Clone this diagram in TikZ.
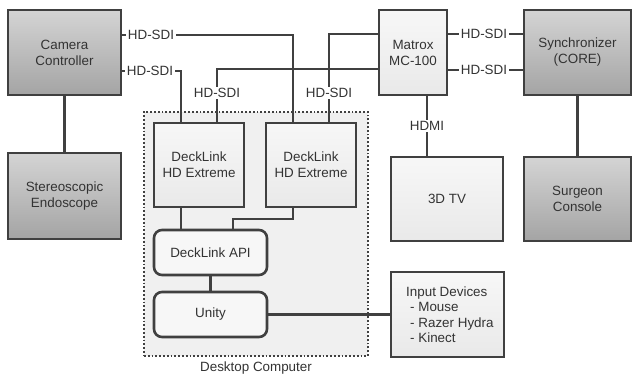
\documentclass[tikz,border=0pt]{standalone}
\usepackage{fontspec}
\setmainfont{Liberation Sans}
\definecolor{txt}{HTML}{333333}
\definecolor{edge}{HTML}{404040}
\definecolor{dtop}{HTML}{D4D4D4}
\definecolor{dbot}{HTML}{A4A4A4}
\definecolor{ltop}{HTML}{F7F7F7}
\definecolor{lbot}{HTML}{E9E9E9}
\definecolor{desk}{HTML}{F0F0F0}
\begin{document}
\begin{tikzpicture}[x=1pt,y=-1pt,
  every node/.style={font=\fontsize{13.4}{16}\selectfont, text=txt},
  box/.style={draw=edge, line width=2.6pt, align=center, inner sep=0pt},
  darkbox/.style={box, top color=dtop, bottom color=dbot},
  lightbox/.style={box, top color=ltop, bottom color=lbot},
  rbox/.style={box, fill=ltop, rounded corners=8pt},
  lbl/.style={fill=white, inner sep=1.5pt},
  wire/.style={draw=edge, line width=2.3pt}]
\useasboundingbox (0,0) rectangle (634,378);
\fill[white] (0,0) rectangle (634,378);
% desktop area
\node[draw=edge, dotted, line width=1.8pt, fill=desk, minimum width=224pt, minimum height=244pt, inner sep=0pt] (desk) at (256,234) {};
\node[anchor=north] (desklbl) at (256,358) {Desktop Computer};
% coordinates
\coordinate (c1) at (293,35);
\coordinate (c2) at (181,71);
\coordinate (c3) at (217,69);
\coordinate (c4) at (329,34);
\coordinate (c5) at (293,219);
\coordinate (c6) at (233,219);
\coordinate (c7) at (484,34);
\coordinate (c8) at (484,70);
\coordinate (c9) at (427,126);
% boxes
\node[darkbox, minimum width=113pt, minimum height=85pt] (cam) at (64.5,52.5) {Camera\\Controller};
\node[darkbox, minimum width=113pt, minimum height=86pt] (endo) at (64.5,196) {Stereoscopic\\Endoscope};
\node[lightbox, minimum width=68pt, minimum height=85pt] (mat) at (413,52.5) {Matrox\\MC-100};
\node[darkbox, minimum width=107pt, minimum height=85pt] (sync) at (577.5,52.5) {Synchronizer\\(CORE)};
\node[darkbox, minimum width=107pt, minimum height=84pt] (surg) at (577.5,199) {Surgeon\\Console};
\node[lightbox, minimum width=112pt, minimum height=84pt] (tv) at (447,199) {3D TV};
\node[lightbox, minimum width=113pt, minimum height=85pt] (inp) at (447.5,314.5) {};
\node[anchor=north west, align=left, inner sep=0pt, font=\fontsize{13.4}{15.5}\selectfont] (inptxt) at (406,286.5) {Input Devices\\\hspace*{4pt}- Mouse\\\hspace*{4pt}- Razer Hydra\\\hspace*{4pt}- Kinect};
\node[lightbox, minimum width=90pt, minimum height=84pt] (dl1) at (199,165) {DeckLink\\HD Extreme};
\node[lightbox, minimum width=90pt, minimum height=84pt] (dl2) at (311,165) {DeckLink\\HD Extreme};
\node[rbox, minimum width=113pt, minimum height=45pt] (api) at (210.5,252.5) {DeckLink API};
\node[rbox, minimum width=113pt, minimum height=45pt] (uni) at (210.5,314.5) {Unity};
% wires
\draw[wire] (cam.east |- c1) -- (c1) -- (dl2.north -| c1);
\draw[wire] (cam.east |- c2) -- (c2) -- (dl1.north -| c2);
\draw[wire] (dl1.north -| c3) -- (c3) -- (mat.west |- c3);
\draw[wire] (dl2.north -| c4) -- (c4) -- (mat.west |- c4);
\draw[wire] (mat.east |- c7) -- (sync.west |- c7);
\draw[wire] (mat.east |- c8) -- (sync.west |- c8);
\draw[wire] (mat.south -| c9) -- (tv.north -| c9);
\draw[wire] (cam.south) -- (endo.north);
\draw[wire] (sync.south) -- (surg.north);
\draw[wire] (dl1.south -| c2) -- (api.north -| c2);
\draw[wire] (dl2.south -| c5) -- (c5) -- (c6) -- (api.north -| c6);
\draw[wire] (api.south) -- (uni.north);
\draw[wire] (uni.east) -- (inp.west |- uni.east);
% labels
\node[lbl] (l1) at (151,35) {HD-SDI};
\node[lbl] (l2) at (150,71) {HD-SDI};
\node[lbl] (l3) at (217,93) {HD-SDI};
\node[lbl] (l4) at (329,93) {HD-SDI};
\node[lbl] (l5) at (c7) {HD-SDI};
\node[lbl] (l6) at (c8) {HD-SDI};
\node[lbl] (l7) at (c9) {HDMI};
\end{tikzpicture}
\end{document}
